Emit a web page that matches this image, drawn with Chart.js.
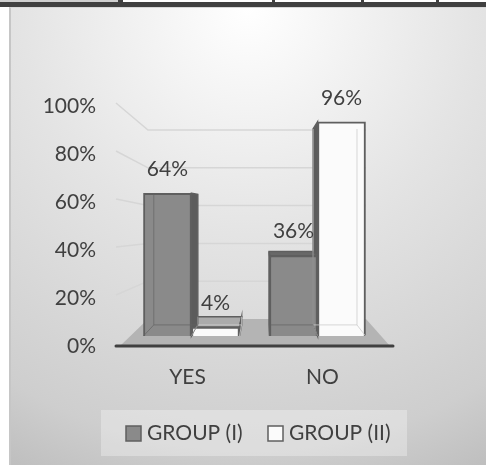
<!DOCTYPE html>
<html>
<head>
<meta charset="utf-8">
<script src="https://cdn.jsdelivr.net/npm/chart.js@4/dist/chart.umd.min.js"></script>
<style>
  html, body { margin: 0; padding: 0; background: #fff; overflow: hidden; }
  #page { position: relative; width: 486px; height: 465px; }
  /* bit of the table sitting above the figure in the source document */
  #cellGrey { position: absolute; left: 0; top: 0; width: 118px; height: 2px; background: #cfcfcf; }
  #rule { position: absolute; left: 0; top: 2px; width: 486px; height: 5px; background: #404040; }
  .tick { position: absolute; top: 0; width: 3px; height: 2px; background: #404040; }
  #panel {
    position: absolute; left: 9px; top: 7px; width: 477px; height: 458px; box-sizing: border-box;
    border-left: 2px solid #c6c6c6; border-top: 1px solid #d8d8d8;
    background: radial-gradient(ellipse 540px 540px at 50% 0%, #ffffff 0%, #e4e4e4 42%, #cecece 82%, #b9b9b9 100%);
  }
  canvas { position: absolute; left: 0; top: 0; }
</style>
</head>
<body>
<div id="page">
  <div id="cellGrey"></div>
  <div id="rule"></div>
  <div class="tick" style="left:118px;width:5px"></div>
  <div class="tick" style="left:272px"></div>
  <div class="tick" style="left:361px"></div>
  <div class="tick" style="left:436px"></div>
  <div id="panel"></div>
  <canvas id="chart" width="486" height="465"></canvas>
</div>
<script>
const categories = ['YES', 'NO'];
const groupOne = [64, 36];
const groupTwo = [4, 96];
const yTicks = [0, 20, 40, 60, 80, 100];

const textColor = '#404040';
const fontName = 'Lato';

// perspective of the 3d box, everything runs towards this point
const vanish = { x: 265, y: 206 };
const barDepth = 0.915;

function project(x, y, k) {
    return [vanish.x + (x - vanish.x) * k, vanish.y + (y - vanish.y) * k];
}

function poly(ctx, pts, fill, stroke) {
    ctx.beginPath();
    ctx.moveTo(pts[0][0], pts[0][1]);
    for (let i = 1; i < pts.length; i++) ctx.lineTo(pts[i][0], pts[i][1]);
    ctx.closePath();
    if (fill) { ctx.fillStyle = fill; ctx.fill(); }
    if (stroke) { ctx.strokeStyle = stroke; ctx.lineWidth = 1.5; ctx.stroke(); }
}

const box3d = {
    id: 'box3d',
    beforeDatasetsDraw(chart) {
        const ctx = chart.ctx, a = chart.chartArea;
        const front = chart.scales.y, back = chart.scales.y2;
        ctx.save();
        // side wall and back wall lines
        ctx.strokeStyle = '#d6d6d6';
        ctx.lineWidth = 1.5;
        yTicks.slice(1).forEach(v => {
            const by = back.getPixelForValue(v);
            ctx.beginPath();
            ctx.moveTo(a.left - 4, front.getPixelForValue(v) - 3);
            ctx.lineTo(a.left + 28, by);
            ctx.lineTo(a.right - 24, by);
            ctx.stroke();
        });
        // floor
        const fy = front.getPixelForValue(0), by0 = back.getPixelForValue(0);
        poly(ctx, [[a.left, fy], [a.left + 28, by0], [a.right - 24, by0], [a.right, fy]], '#b4b4b4');

        // second group first so the first one overlaps it
        [1, 0].forEach(d => {
            chart.getDatasetMeta(d).data.forEach(bar => {
                const l = bar.x - bar.width / 2, r = bar.x + bar.width / 2, t = bar.y, b = bar.base;
                const tl = project(l, t, barDepth), tr = project(r, t, barDepth);
                const bl = project(l, b, barDepth), br = project(r, b, barDepth);
                const edge = '#5f5f5f';
                if (t > vanish.y) poly(ctx, [[l, t], tl, tr, [r, t]], d === 0 ? '#686868' : '#ababab', edge);
                if (r < vanish.x) poly(ctx, [[r, t], tr, br, [r, b]], d === 0 ? '#5c5c5c' : '#ababab', edge);
                if (l > vanish.x) poly(ctx, [[l, t], tl, bl, [l, b]], '#5c5c5c', edge);
            });
        });
        ctx.restore();
    },
    afterDatasetsDraw(chart) {
        const ctx = chart.ctx, a = chart.chartArea, front = chart.scales.y;
        ctx.save();
        // far edges showing through the front of each bar
        [1, 0].forEach(d => {
            ctx.strokeStyle = d === 0 ? 'rgba(100,100,100,0.7)' : 'rgba(205,205,205,0.8)';
            ctx.lineWidth = 1;
            chart.getDatasetMeta(d).data.forEach(bar => {
                const l = bar.x - bar.width / 2, r = bar.x + bar.width / 2, t = bar.y, b = bar.base;
                const tl = project(l, t, barDepth), tr = project(r, t, barDepth);
                const bl = project(l, b, barDepth), br = project(r, b, barDepth);
                ctx.beginPath();
                ctx.moveTo(tl[0], tl[1]); ctx.lineTo(bl[0], bl[1]); ctx.lineTo(br[0], br[1]); ctx.lineTo(tr[0], tr[1]);
                ctx.moveTo(l, b); ctx.lineTo(bl[0], bl[1]);
                ctx.moveTo(r, b); ctx.lineTo(br[0], br[1]);
                ctx.stroke();
            });
        });
        // axis line
        const fy = front.getPixelForValue(0);
        ctx.strokeStyle = textColor;
        ctx.lineWidth = 3;
        ctx.lineCap = 'round';
        ctx.beginPath();
        ctx.moveTo(a.left - 4, fy);
        ctx.lineTo(a.right + 3, fy);
        ctx.stroke();
        // value labels
        ctx.fillStyle = textColor;
        ctx.font = '21px ' + fontName;
        ctx.textAlign = 'center';
        ctx.textBaseline = 'middle';
        chart.data.datasets.forEach((ds, d) => {
            chart.getDatasetMeta(d).data.forEach((bar, i) => {
                ctx.fillText(ds.data[i].y + '%', bar.x, bar.y - 24);
            });
        });
        ctx.restore();
    },
    afterDraw(chart) {
        // legend box, placed like the one in the source figure
        const ctx = chart.ctx;
        ctx.save();
        ctx.fillStyle = 'rgba(255,255,255,0.3)';
        ctx.fillRect(101, 410, 306, 46);
        ctx.font = '21px ' + fontName;
        ctx.textBaseline = 'middle';
        ctx.textAlign = 'left';
        let x = 126;
        chart.data.datasets.forEach(ds => {
            ctx.fillStyle = ds.backgroundColor;
            ctx.strokeStyle = ds.borderColor;
            ctx.lineWidth = 1.5;
            ctx.fillRect(x, 426, 15, 15);
            ctx.strokeRect(x, 426, 15, 15);
            ctx.fillStyle = textColor;
            ctx.fillText(ds.label, x + 21, 433);
            x += 142;
        });
        ctx.restore();
    }
};

function points(values) {
    return values.map((v, i) => ({ x: i, y: v }));
}

new Chart(document.getElementById('chart').getContext('2d'), {
    type: 'bar',
    data: {
        labels: categories,
        datasets: [
            { label: 'GROUP (I)', data: points(groupOne), xAxisID: 'x1', yAxisID: 'y1', barThickness: 48,
              backgroundColor: '#8a8a8a', borderColor: '#5f5f5f', borderWidth: 2 },
            { label: 'GROUP (II)', data: points(groupTwo), xAxisID: 'x1', yAxisID: 'y1', barThickness: 48,
              backgroundColor: '#fbfbfb', borderColor: '#5f5f5f', borderWidth: 2 }
        ]
    },
    plugins: [box3d],
    options: {
        responsive: false,
        animation: false,
        layout: { padding: { left: 0, right: 96, top: 106, bottom: 0 } },
        plugins: { legend: { display: false }, tooltip: { enabled: false } },
        scales: {
            x: {
                type: 'category',
                grid: { display: false },
                border: { display: false },
                ticks: { color: textColor, font: { family: fontName, size: 21 }, padding: 11, maxRotation: 0 },
                afterFit(s) { s.height = 119; }
            },
            y: {
                min: 0, max: 100,
                grid: { display: false },
                border: { display: false },
                ticks: { stepSize: 20, color: textColor, padding: 16, font: { family: fontName, size: 21 },
                         callback: v => v + '%' },
                afterFit(s) { s.width = 120; }
            },
            // the bars and the back wall sit on their own scales because of the perspective
            x1: { type: 'linear', display: false, offset: false, min: -0.567, max: 1.575 },
            y1: { type: 'linear', display: false, min: -4.5, max: 103.1 },
            y2: { type: 'linear', display: false, min: -14.3, max: 112.7 }
        }
    }
});
</script>
</body>
</html>
